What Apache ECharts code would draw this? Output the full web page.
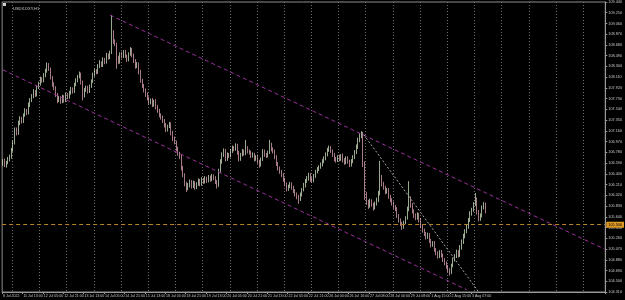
<!DOCTYPE html>
<html>
<head>
<meta charset="utf-8">
<script src="https://cdn.jsdelivr.net/npm/echarts@6/dist/echarts.min.js"></script>
<style>
html,body{margin:0;padding:0;background:#000;}
#chart{width:625px;height:300px;}
</style>
</head>
<body>
<div id="chart"></div>
<script>
// H1 bars (price)
var firstOpen = 106.58;
var closes = [
    106.62,106.55,106.60,106.66,106.70,106.82,106.95,107.18,107.12,107.30,
    107.38,107.33,107.44,107.52,107.48,107.62,107.70,107.78,107.85,107.80,
    107.94,107.99,108.08,108.05,108.14,108.22,108.33,108.25,108.10,107.98,
    107.92,107.80,107.70,107.74,107.68,107.76,107.70,107.80,107.76,107.84,
    107.90,107.86,107.98,108.05,108.12,108.16,108.02,107.78,107.88,107.92,
    107.86,107.95,108.04,108.15,108.22,108.20,108.30,108.36,108.32,108.42,
    108.38,108.50,108.46,108.55,108.88,108.74,108.70,108.45,108.38,108.52,
    108.48,108.56,108.48,108.42,108.52,108.60,108.50,108.40,108.30,108.34,
    108.20,108.05,107.96,107.88,107.80,107.74,107.66,107.70,107.62,107.68,
    107.58,107.52,107.44,107.40,107.34,107.26,107.18,107.24,107.28,107.12,
    107.02,106.96,106.84,106.76,106.70,106.50,106.38,106.22,106.14,106.20,
    106.26,106.18,106.24,106.16,106.22,106.28,106.22,106.30,106.26,106.32,
    106.28,106.34,106.30,106.36,106.33,106.26,106.20,106.45,106.62,106.74,
    106.80,106.66,106.74,106.72,106.80,106.86,106.84,106.90,106.78,106.66,
    106.74,106.80,106.76,106.86,106.80,106.78,106.72,106.74,106.66,106.70,
    106.62,106.56,106.66,106.80,106.74,106.72,106.78,106.92,106.84,106.80,
    106.70,106.58,106.50,106.44,106.38,106.30,106.22,106.14,106.18,106.22,
    106.16,106.10,106.04,106.00,105.96,106.04,106.12,106.20,106.28,106.32,
    106.38,106.30,106.28,106.36,106.44,106.48,106.52,106.56,106.62,106.68,
    106.74,106.82,106.86,106.80,106.74,106.66,106.64,106.70,106.66,106.72,
    106.64,106.60,106.68,106.62,106.56,106.62,106.70,106.78,106.88,107.00,
    107.08,107.12,106.58,106.02,105.90,105.84,105.92,105.86,105.80,105.88,
    105.94,106.06,106.30,106.22,106.16,106.08,106.12,106.00,105.94,105.88,
    105.82,105.78,105.66,105.58,105.52,105.46,105.54,105.62,105.78,105.96,
    105.84,105.74,105.66,105.62,105.68,105.58,105.48,105.40,105.34,105.28,
    105.32,105.22,105.14,105.18,105.06,105.00,104.94,105.02,104.96,104.88,
    104.82,104.76,104.70,104.66,104.78,104.88,104.94,105.02,104.96,105.10,
    105.20,105.30,105.38,105.46,105.58,105.70,105.76,105.86,105.96,105.72,
    105.60,105.66,105.80,105.86,105.72
];
var highs = [
    106.66,106.67,106.63,106.70,106.74,106.86,106.99,107.22,107.22,107.34,
    107.42,107.41,107.47,107.56,107.55,107.66,107.74,107.81,107.90,107.88,
    107.97,108.03,108.12,108.11,108.18,108.26,108.37,108.36,108.28,108.13,
    108.02,107.95,107.83,107.78,107.77,107.80,107.79,107.84,107.83,107.87,
    107.94,107.93,108.01,108.09,108.15,108.21,108.19,108.05,107.92,107.96,
    107.96,107.98,108.07,108.19,108.26,108.25,108.34,108.41,108.39,108.46,
    108.45,108.54,108.53,108.58,109.21,108.94,108.78,108.72,108.49,108.55,
    108.56,108.59,108.59,108.51,108.55,108.64,108.63,108.53,108.43,108.38,
    108.37,108.24,108.08,107.99,107.91,107.84,107.77,107.73,107.74,107.71,
    107.72,107.62,107.55,107.47,107.43,107.37,107.30,107.27,107.32,107.31,
    107.16,107.06,106.99,106.88,106.79,106.74,106.54,106.41,106.26,106.24,
    106.30,106.29,106.28,106.27,106.25,106.32,106.31,106.34,106.33,106.36,
    106.35,106.38,106.37,106.40,106.39,106.36,106.29,106.49,106.66,106.78,
    106.85,106.84,106.78,106.77,106.84,106.90,106.89,106.94,106.93,106.81,
    106.77,106.84,106.83,107.00,106.89,106.83,106.81,106.78,106.77,106.73,
    106.74,106.65,106.69,106.84,106.83,106.77,106.81,107.00,106.95,106.87,
    106.83,106.73,106.61,106.53,106.47,106.41,106.33,106.25,106.21,106.26,
    106.25,106.19,106.13,106.07,106.03,106.07,106.15,106.24,106.31,106.36,
    106.42,106.41,106.34,106.40,106.47,106.52,106.55,106.60,106.66,106.71,
    106.78,106.86,106.90,106.89,106.83,106.77,106.70,106.73,106.74,106.75,
    106.76,106.68,106.71,106.71,106.65,106.66,106.73,106.82,106.92,107.04,
    107.12,107.15,107.14,106.62,106.08,105.94,105.96,105.95,105.89,105.91,
    105.98,106.10,106.63,106.38,106.26,106.19,106.15,106.15,106.03,105.97,
    105.91,105.85,105.81,105.69,105.61,105.55,105.57,105.65,105.82,106.27,
    106.00,105.88,105.77,105.70,105.72,105.71,105.62,105.51,105.43,105.37,
    105.36,105.35,105.25,105.21,105.21,105.09,105.03,105.05,105.05,104.99,
    104.91,104.85,104.79,104.73,104.81,104.92,104.98,105.06,105.05,105.14,
    105.24,105.34,105.42,105.50,105.62,105.74,105.80,105.90,106.06,105.98,
    105.76,105.70,105.84,105.90,105.89
];
var lows = [
    106.54,106.52,106.51,106.57,106.62,106.67,106.79,106.92,107.08,107.09,
    107.26,107.29,107.30,107.41,107.44,107.45,107.58,107.67,107.74,107.76,
    107.77,107.90,107.96,108.01,108.02,108.11,108.19,108.22,108.07,107.94,
    107.88,107.76,107.65,107.67,107.64,107.65,107.66,107.67,107.72,107.73,
    107.80,107.82,107.83,107.95,108.02,108.09,107.98,107.70,107.75,107.85,
    107.82,107.83,107.92,108.01,108.12,108.16,108.17,108.27,108.29,108.29,
    108.34,108.35,108.42,108.43,108.52,108.70,108.66,108.26,108.34,108.35,
    108.44,108.45,108.45,108.38,108.39,108.49,108.46,108.36,108.26,108.27,
    108.16,108.01,107.92,107.84,107.76,107.70,107.62,107.63,107.58,107.59,
    107.54,107.48,107.40,107.36,107.30,107.22,107.14,107.15,107.21,107.08,
    106.98,106.92,106.80,106.72,106.66,106.46,106.34,106.18,106.08,106.11,
    106.16,106.14,106.15,106.12,106.13,106.19,106.18,106.19,106.22,106.23,
    106.24,106.25,106.26,106.27,106.29,106.22,106.14,106.17,106.42,106.58,
    106.70,106.62,106.63,106.68,106.69,106.77,106.80,106.81,106.74,106.62,
    106.63,106.71,106.72,106.73,106.76,106.74,106.68,106.69,106.62,106.63,
    106.58,106.51,106.53,106.63,106.70,106.68,106.69,106.75,106.80,106.76,
    106.66,106.54,106.46,106.40,106.34,106.26,106.18,106.09,106.10,106.15,
    106.12,106.06,106.00,105.95,105.87,105.92,106.00,106.09,106.16,106.24,
    106.28,106.26,106.24,106.25,106.33,106.41,106.45,106.49,106.53,106.59,
    106.64,106.71,106.79,106.77,106.70,106.62,106.60,106.61,106.62,106.63,
    106.60,106.56,106.57,106.58,106.52,106.53,106.59,106.66,106.75,106.84,
    106.96,107.03,106.52,105.94,105.85,105.78,105.80,105.82,105.75,105.77,
    105.84,105.90,106.02,106.18,106.12,106.04,106.05,105.96,105.90,105.84,
    105.78,105.74,105.62,105.54,105.48,105.41,105.43,105.51,105.59,105.74,
    105.80,105.70,105.62,105.58,105.59,105.54,105.44,105.36,105.30,105.24,
    105.25,105.18,105.10,105.11,105.02,104.96,104.90,104.91,104.92,104.84,
    104.78,104.72,104.66,104.60,104.63,104.75,104.85,104.91,104.92,104.93,
    105.06,105.16,105.26,105.35,105.43,105.55,105.66,105.73,105.83,105.68,
    105.56,105.57,105.63,105.77,105.70
];

// time scale labels, one every 12 bars
var tickLabels = [
    '8 Jul 2022','11 Jul 13:00','12 Jul 05:00','12 Jul 21:00','13 Jul 13:00','14 Jul 05:00',
    '14 Jul 21:00','15 Jul 13:00','18 Jul 05:00','18 Jul 21:00','19 Jul 13:00','20 Jul 05:00',
    '20 Jul 21:00','21 Jul 13:00','22 Jul 05:00','22 Jul 21:00','26 Jul 00:00','26 Jul 16:00',
    '27 Jul 08:00','28 Jul 00:00','29 Jul 08:00','1 Aug 15:00','2 Aug 15:00','3 Aug 07:00'
];
var labelEvery = 12;
var gridEvery = 16;
var gridFirst = 6;

// price scale
var priceMin = 104.31;
var priceMax = 109.44;
var priceStep = 0.19;

// drawn objects: horizontal level, channel and trend line ([bar, price])
var levelPrice = 105.50;
var channelTop = [[63, 109.21], [354, 105.07]];
var channelBottom = [[0, 108.24], [273, 104.35]];
var trendLine = [[211, 107.15], [280, 104.31]];

var barSlots = 355; // bars + empty shift on the right

var categories = [];
for (var i = 0; i < barSlots; i++) categories.push(String(i));

var candles = closes.map(function (c, i) {
    var o = i === 0 ? firstOpen : closes[i - 1];
    return [o, c, lows[i], highs[i]];
});
var lastClose = closes[closes.length - 1];

var tinyFont = '"Liberation Sans Narrow", "Liberation Sans", sans-serif';

function isLabelBar(idx) {
    return idx % labelEvery === 0 && idx / labelEvery < tickLabels.length;
}

function seg(pts, color, type) {
    return [
        {coord: [String(pts[0][0]), pts[0][1]], lineStyle: {color: color, type: type, width: 1}},
        {coord: [String(pts[1][0]), pts[1][1]]}
    ];
}

var option = {
    animation: false,
    backgroundColor: '#000000',
    title: {
        text: 'USDX.DXY,H1',
        left: 8,
        top: 2,
        textStyle: {color: '#d0d0d0', fontSize: 4, fontWeight: 'normal', fontFamily: tinyFont}
    },
    graphic: [{
        type: 'rect',
        left: 3, top: 3,
        shape: {width: 3, height: 3},
        style: {fill: '#d0d0d0'}
    }],
    grid: {
        left: 1,
        right: 17,
        top: 2,
        bottom: 8,
        show: true,
        borderColor: '#8c8c8c',
        borderWidth: 1
    },
    xAxis: {
        type: 'category',
        data: categories,
        boundaryGap: true,
        axisLine: {lineStyle: {color: '#9a9a9a', width: 1}},
        axisTick: {
            show: true,
            length: 2,
            interval: function (idx) { return isLabelBar(idx); },
            lineStyle: {color: '#9a9a9a'}
        },
        axisLabel: {
            interval: function (idx) { return isLabelBar(idx); },
            formatter: function (v) {
                var n = Number(v);
                return n % labelEvery === 0 ? (tickLabels[n / labelEvery] || '') : '';
            },
            color: '#c8c8c8',
            fontSize: 3.6,
            fontFamily: tinyFont,
            align: 'left',
            margin: 2
        },
        splitLine: {
            show: true,
            interval: function (idx) { return idx >= gridFirst && (idx - gridFirst) % gridEvery === 0; },
            lineStyle: {color: '#6e6e6e', type: [1, 2], width: 1}
        }
    },
    yAxis: {
        type: 'value',
        position: 'right',
        scale: true,
        min: priceMin,
        max: priceMax,
        interval: priceStep,
        axisLine: {show: true, lineStyle: {color: '#9a9a9a', width: 1}},
        axisTick: {show: true, length: 2, lineStyle: {color: '#9a9a9a'}},
        axisLabel: {
            color: '#c8c8c8',
            fontSize: 3.8,
            fontFamily: tinyFont,
            margin: 3,
            formatter: function (v) { return v.toFixed(3); }
        },
        splitLine: {show: false}
    },
    series: [{
        type: 'candlestick',
        data: candles,
        barWidth: 1,
        itemStyle: {
            color: '#dcf4cc',
            color0: '#eeb0be',
            borderColor: '#dcf4cc',
            borderColor0: '#eeb0be',
            borderWidth: 0.7
        },
        markLine: {
            silent: true,
            symbol: ['none', 'none'],
            animation: false,
            label: {show: false},
            data: [
                seg(channelTop, '#9b2f9b', [4, 3]),
                seg(channelBottom, '#9b2f9b', [4, 3]),
                seg(trendLine, '#a8a8a8', [2, 2]),
                {
                    yAxis: levelPrice,
                    lineStyle: {color: '#b9822a', type: [4, 3], width: 1},
                    label: {
                        show: true, position: 'end', distance: 1,
                        formatter: levelPrice.toFixed(3),
                        backgroundColor: '#e09a24', color: '#000', fontSize: 3.8,
                        fontFamily: tinyFont, padding: [1, 2]
                    }
                },
                {
                    yAxis: lastClose,
                    lineStyle: {opacity: 0},
                    label: {
                        show: true, position: 'end', distance: 1,
                        formatter: lastClose.toFixed(3),
                        backgroundColor: '#ffffff', color: '#000', fontSize: 3.8,
                        fontFamily: tinyFont, padding: [1, 2]
                    }
                }
            ]
        }
    }]
};

var chart = echarts.init(document.getElementById('chart'));
chart.setOption(option);
</script>
</body>
</html>
